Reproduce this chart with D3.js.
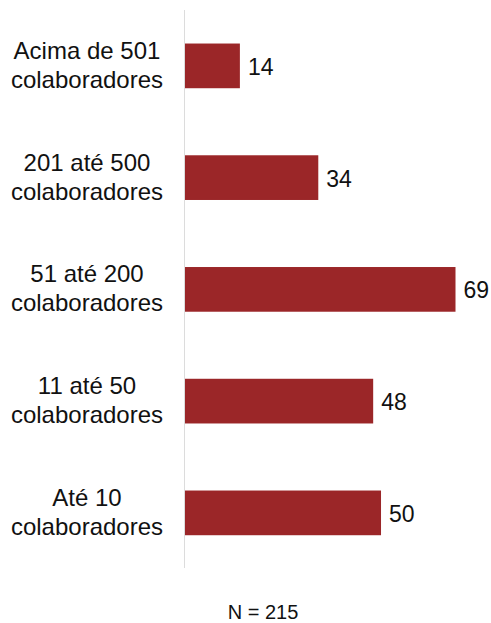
<!DOCTYPE html>
<html>
<head>
<meta charset="utf-8">
<script src="https://cdn.jsdelivr.net/npm/d3@7/dist/d3.min.js"></script>
<style>
  html, body { margin: 0; padding: 0; background: #fff; }
  svg { display: block; font-family: "Liberation Sans", Arial, Helvetica, sans-serif; }
</style>
</head>
<body>
<svg id="chart" width="491" height="623"></svg>
<script>
const categoriesLine1 = ["Acima de 501", "201 até 500", "51 até 200", "11 até 50", "Até 10"];
const categoriesLine2 = ["colaboradores", "colaboradores", "colaboradores", "colaboradores", "colaboradores"];
const values = [14, 34, 69, 48, 50];
const footnote = "N = 215";

const svg = d3.select("#chart");
const cats = categoriesLine1.map((d, i) => d + " " + categoriesLine2[i]);

const x = d3.scaleLinear().domain([0, 69]).range([185, 455.5]);
const y = d3.scaleBand().domain(cats).range([10, 568.75]).paddingInner(0.6).paddingOuter(0.3);

// baseline
svg.append("line")
  .attr("x1", 184.5).attr("x2", 184.5)
  .attr("y1", 10).attr("y2", 568)
  .attr("stroke", "#dcdcdc").attr("stroke-width", 1);

// bars
svg.selectAll("rect.bar").data(values).join("rect")
  .attr("class", "bar")
  .attr("x", x(0))
  .attr("y", (d, i) => y(cats[i]))
  .attr("width", d => x(d) - x(0))
  .attr("height", y.bandwidth())
  .attr("fill", "#9b2628");

// value labels
svg.selectAll("text.val").data(values).join("text")
  .attr("class", "val")
  .attr("x", d => x(d) + 8)
  .attr("y", (d, i) => y(cats[i]) + y.bandwidth() / 2 + 9)
  .attr("font-size", 23)
  .attr("fill", "#111")
  .text(d => d);

// category labels
const lab = svg.selectAll("text.cat").data(cats).join("text")
  .attr("class", "cat")
  .attr("text-anchor", "middle")
  .attr("font-size", 24)
  .attr("fill", "#111");
lab.append("tspan")
  .attr("x", 87)
  .attr("y", d => y(d) + y.bandwidth() / 2 - 7)
  .text((d, i) => categoriesLine1[i]);
lab.append("tspan")
  .attr("x", 87)
  .attr("y", d => y(d) + y.bandwidth() / 2 + 22)
  .text((d, i) => categoriesLine2[i]);

// footnote
svg.append("text")
  .attr("x", 263).attr("y", 619)
  .attr("text-anchor", "middle")
  .attr("font-size", 20)
  .attr("fill", "#111")
  .text(footnote);
</script>
</body>
</html>
